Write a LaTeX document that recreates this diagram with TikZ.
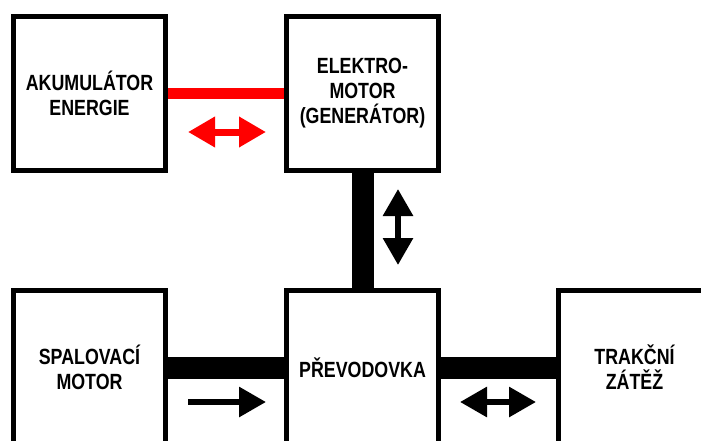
\documentclass[tikz,border=0pt]{standalone}
\usepackage{fontspec}
\setsansfont{Liberation Sans}[FakeStretch=0.81]
\usetikzlibrary{arrows.meta}

\begin{document}
\begin{tikzpicture}[
  x=1pt, y=1pt,
  block/.style = {draw, line width=5pt, minimum width=152pt, minimum height=154pt,
    align=center, font=\sffamily\bfseries\fontsize{22}{25}\selectfont},
  shaft/.style = {line width=22pt},
  redshaft/.style = {line width=11pt, red},
  flow/.style = {line width=6pt, -{Triangle[length=27pt,width=29pt]}},
  twoway/.style = {line width=6pt, {Triangle[length=27pt,width=29pt]}-{Triangle[length=27pt,width=29pt]}},
]

% ── Frame: the lower row is cut off at the page edge ─────────────────────
\useasboundingbox (0,0) rectangle (701,440);
\clip (0,0) rectangle (701,440);

% ── Blocks ────────────────────────────────────────────────────────────────
\node[block] (akku)  at (89.5, 346.5) {AKUMULÁTOR\\ENERGIE};
\node[block] (motor) at (362.5, 346.5) {ELEKTRO-\\MOTOR\\(GENERÁTOR)};
\node[block] (spal)  at (89.5, 72.5) {SPALOVACÍ\\MOTOR};
\node[block] (gear)  at (362.5, 72.5) {PŘEVODOVKA};
\node[block] (load)  at (634.5, 72.5) {TRAKČNÍ\\ZÁTĚŽ};

% ── Links ─────────────────────────────────────────────────────────────────
\draw[redshaft] (akku) -- (motor);
\draw[shaft] (motor) -- (gear);
\draw[shaft] (spal) -- (gear);
\draw[shaft] (gear) -- (load);

% ── Direction of energy flow ──────────────────────────────────────────────
\draw[twoway, red, line width=7pt] (188, 308) -- (266, 308);
\draw[twoway] (398, 251) -- (398, 175);
\draw[flow] (188, 38) -- (266, 38);
\draw[twoway] (460, 38) -- (536, 38);

\end{tikzpicture}
\end{document}
